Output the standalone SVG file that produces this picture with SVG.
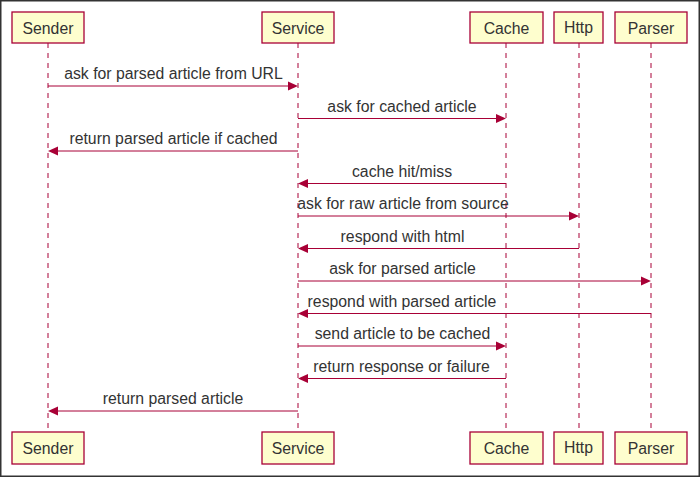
<svg xmlns="http://www.w3.org/2000/svg" width="700" height="477" viewBox="0 0 700 477">
<style>
.box{fill:#FEFECE;stroke:#A80036;stroke-width:1.3}
.lbl{font-family:"Liberation Sans",Arial,sans-serif;font-size:15.8px;fill:#333;text-anchor:middle}
.life{stroke:#A80036;stroke-width:1;stroke-dasharray:5,5;fill:none}
.msg{stroke:#A80036;stroke-width:1;fill:none}
.head{fill:#A80036}
</style>
<rect x="0" y="0" width="700" height="477" fill="#fff"/>
<rect x="0.75" y="0.75" width="698.5" height="475.5" fill="none" stroke="#333" stroke-width="1.5"/>
<g id="lifelines">
<line class="life" x1="48" y1="43" x2="48" y2="432"/>
<line class="life" x1="298" y1="43" x2="298" y2="432"/>
<line class="life" x1="506" y1="43" x2="506" y2="432"/>
<line class="life" x1="579" y1="43" x2="579" y2="432"/>
<line class="life" x1="651" y1="43" x2="651" y2="432"/>
</g>
<g id="sender">
<rect class="box" x="12" y="12" width="72" height="31"/>
<text class="lbl" x="48" y="34">Sender</text>
<rect class="box" x="12" y="432" width="72" height="32"/>
<text class="lbl" x="48" y="454">Sender</text>
</g>
<g id="service">
<rect class="box" x="262" y="12" width="72" height="31"/>
<text class="lbl" x="298" y="34">Service</text>
<rect class="box" x="262" y="432" width="72" height="32"/>
<text class="lbl" x="298" y="454">Service</text>
</g>
<g id="cache">
<rect class="box" x="470" y="12" width="73" height="31"/>
<text class="lbl" x="506.5" y="34">Cache</text>
<rect class="box" x="470" y="432" width="73" height="32"/>
<text class="lbl" x="506.5" y="454">Cache</text>
</g>
<g id="http">
<rect class="box" x="554" y="12" width="49" height="31"/>
<text class="lbl" x="578.5" y="33">Http</text>
<rect class="box" x="554" y="432" width="49" height="32"/>
<text class="lbl" x="578.5" y="453">Http</text>
</g>
<g id="parser">
<rect class="box" x="615" y="12" width="72" height="31"/>
<text class="lbl" x="651" y="34">Parser</text>
<rect class="box" x="615" y="432" width="72" height="32"/>
<text class="lbl" x="651" y="454">Parser</text>
</g>
<g id="connectors">
<line class="msg" x1="48" y1="86" x2="290" y2="86"/>
<polygon class="head" points="298,86 288,81.5 288,90.5"/>
<text class="lbl" x="173.5" y="79">ask for parsed article from URL</text>

<line class="msg" x1="298" y1="118.5" x2="498" y2="118.5"/>
<polygon class="head" points="506,118.5 496,114 496,123"/>
<text class="lbl" x="402" y="111.5">ask for cached article</text>

<line class="msg" x1="56" y1="151" x2="298" y2="151"/>
<polygon class="head" points="48,151 58,146.5 58,155.5"/>
<text class="lbl" x="173.5" y="144">return parsed article if cached</text>

<line class="msg" x1="306" y1="183.5" x2="506" y2="183.5"/>
<polygon class="head" points="298,183.5 308,179 308,188"/>
<text class="lbl" x="402" y="176.5">cache hit/miss</text>

<line class="msg" x1="298" y1="216" x2="571" y2="216"/>
<polygon class="head" points="579,216 569,211.5 569,220.5"/>
<text class="lbl" x="403" y="209">ask for raw article from source</text>

<line class="msg" x1="306" y1="248.5" x2="579" y2="248.5"/>
<polygon class="head" points="298,248.5 308,244 308,253"/>
<text class="lbl" x="402.5" y="241.5">respond with html</text>

<line class="msg" x1="298" y1="281" x2="643" y2="281"/>
<polygon class="head" points="651,281 641,276.5 641,285.5"/>
<text class="lbl" x="402.5" y="274">ask for parsed article</text>

<line class="msg" x1="306" y1="313.5" x2="651" y2="313.5"/>
<polygon class="head" points="298,313.5 308,309 308,318"/>
<text class="lbl" x="402" y="306.5">respond with parsed article</text>

<line class="msg" x1="298" y1="346" x2="498" y2="346"/>
<polygon class="head" points="506,346 496,341.5 496,350.5"/>
<text class="lbl" x="402.5" y="339">send article to be cached</text>

<line class="msg" x1="306" y1="378.5" x2="506" y2="378.5"/>
<polygon class="head" points="298,378.5 308,374 308,383"/>
<text class="lbl" x="401.5" y="371.5">return response or failure</text>

<line class="msg" x1="56" y1="411" x2="298" y2="411"/>
<polygon class="head" points="48,411 58,406.5 58,415.5"/>
<text class="lbl" x="173" y="404">return parsed article</text>
</g>
</svg>
